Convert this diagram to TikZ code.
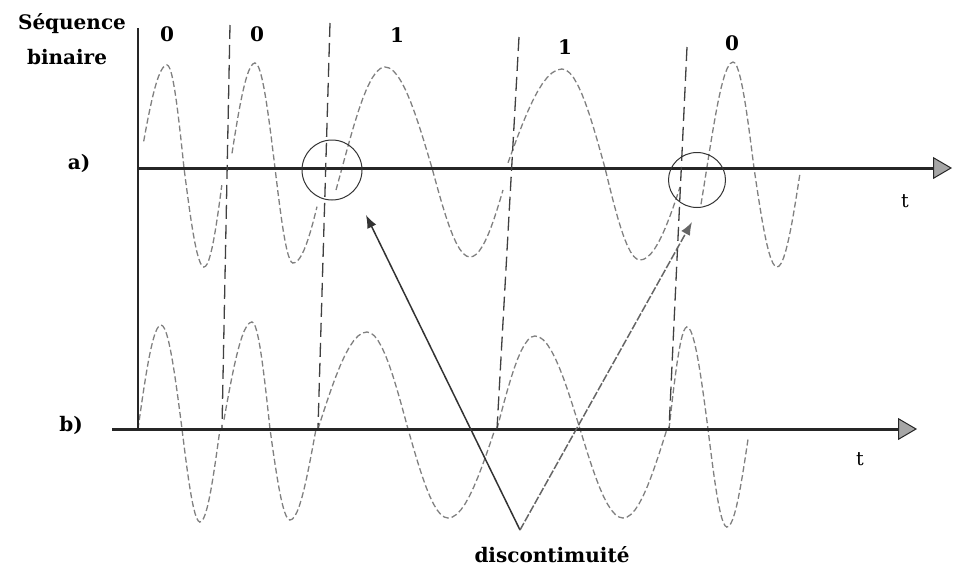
\documentclass[tikz,border=0pt]{standalone}
\usepackage{fontspec}
\setmainfont{DejaVu Serif}
\usetikzlibrary{arrows.meta,shapes.geometric}
\newcommand{\wq}[5]{plot[domain=#3:#4,samples=12] ({#1+(\x-#3)/(#4-#3)*(#2-#1)},{\yax-#5*sin(\x)})}
\newcommand{\wqc}[5]{-- plot[domain=#3:#4,samples=12] ({#1+(\x-#3)/(#4-#3)*(#2-#1)},{\yax-#5*sin(\x)})}
\tikzset{
  wave/.style={black!50,line width=1.3pt,dash pattern=on 6pt off 3pt},
  axisline/.style={black!85,line width=3pt,-{Triangle[length=19pt,width=22pt,fill=black!35,line width=1pt]}},
  vaxis/.style={black!85,line width=1.5pt},
  bitsep/.style={black!75,line width=1.3pt,dash pattern=on 14pt off 6pt},
  ring/.style={draw=black!80,line width=1pt,ellipse,inner sep=0pt},
  pointer/.style={black!80,line width=1.5pt,-{Latex[length=13pt,width=10pt]}},
  pointerb/.style={black!60,line width=1.5pt,dash pattern=on 8pt off 2pt,-{Latex[length=13pt,width=10pt]}},
  lbl/.style={font=\bfseries\fontsize{20}{24}\selectfont,inner sep=0pt},
  tl/.style={font=\fontsize{19}{22}\selectfont,inner sep=0pt}
}
\begin{document}
\begin{tikzpicture}[x=1pt,y=-1pt]
\useasboundingbox (0,0) rectangle (953,570);
% waves a)
\def\yax{168}
\draw[wave] \wq{143.7}{167}{15}{90}{103} \wqc{167}{184}{90}{180}{103} \wqc{184}{204}{180}{270}{99} \wqc{204}{221.8}{270}{350}{99};
\draw[wave] \wq{232}{255}{8}{90}{105} \wqc{255}{275}{90}{180}{105} \wqc{275}{293}{180}{270}{95} \wqc{293}{317}{270}{336}{95};
\draw[wave] \wq{336}{385}{-12.6}{90}{101} \wqc{385}{432}{90}{180}{101} \wqc{432}{470}{180}{270}{89} \wqc{470}{503}{270}{345.7}{89};
\draw[wave] \wq{508}{562}{3}{90}{99} \wqc{562}{605}{90}{180}{99} \wqc{605}{640}{180}{270}{92} \wqc{640}{680}{270}{348}{92};
\draw[wave] \wq{701}{733}{-20}{90}{106} \wqc{733}{754}{90}{180}{106} \wqc{754}{777}{180}{270}{99} \wqc{777}{800}{270}{357}{99};
% waves b)
\def\yax{429}
\draw[wave] \wq{138}{161}{0}{90}{104} \wqc{161}{182}{90}{180}{104} \wqc{182}{200}{180}{270}{93} \wqc{200}{220}{270}{360}{93};
\draw[wave] \wq{224}{252}{5}{90}{107} \wqc{252}{270}{90}{180}{107} \wqc{270}{290}{180}{270}{91} \wqc{290}{316}{270}{360}{91};
\draw[wave] \wq{318}{367}{0}{90}{97} \wqc{367}{408}{90}{180}{97} \wqc{408}{448}{180}{270}{89} \wqc{448}{495}{270}{360}{89};
\draw[wave] \wq{497}{535}{0}{90}{93} \wqc{535}{580}{90}{180}{93} \wqc{580}{623}{180}{270}{89} \wqc{623}{667}{270}{360}{89};
\draw[wave] \wq{669}{687}{0}{90}{102} \wqc{687}{708}{90}{180}{102} \wqc{708}{727}{180}{270}{98} \wqc{727}{748}{270}{354}{98};
% axes
\coordinate (aS) at (138,168);
\coordinate (aE) at (952,168);
\coordinate (bS) at (112,429);
\coordinate (bE) at (917,429);
\coordinate (vT) at (138,28);
\coordinate (vB) at (138,429);
\draw[axisline] (aS) -- (aE);
\draw[axisline] (bS) -- (bE);
\draw[vaxis] (vT) -- (vB);
% bit separators
\coordinate (s1t) at (230,25);  \coordinate (s1b) at (222,428);
\coordinate (s2t) at (330,23);  \coordinate (s2b) at (318,428);
\coordinate (s3t) at (519,37);  \coordinate (s3b) at (497,429);
\coordinate (s4t) at (687,47);  \coordinate (s4b) at (669,429);
\draw[bitsep] (s1t) -- (s1b);
\draw[bitsep] (s2t) -- (s2b);
\draw[bitsep] (s3t) -- (s3b);
\draw[bitsep] (s4t) -- (s4b);
% discontinuity rings
\node[ring,minimum width=60pt,minimum height=60pt] (ringA) at (332,170) {};
\node[ring,minimum width=57pt,minimum height=55pt] (ringB) at (697,180) {};
% pointers
\coordinate (vtx) at (520,530);
\coordinate (tipA) at (366,215);
\coordinate (tipB) at (692,222);
\draw[pointer] (vtx) -- (tipA);
\draw[pointerb] (vtx) -- (tipB);
% labels
\node[lbl,anchor=base] (seqA) at (72,29) {Séquence};
\node[lbl,anchor=base] (seqB) at (67,64) {binaire};
\node[lbl] (bit1) at (167,34) {0};
\node[lbl] (bit2) at (257,34) {0};
\node[lbl] (bit3) at (397,35) {1};
\node[lbl] (bit4) at (565,47) {1};
\node[lbl] (bit5) at (732,43) {0};
\node[lbl] (la) at (79,163) {a)};
\node[lbl] (lb) at (71,425) {b)};
\node[tl] (ta) at (905,201) {t};
\node[tl] (tb) at (860,459) {t};
\node[lbl,anchor=base] (disc) at (552,562) {discontimuité};
\end{tikzpicture}
\end{document}
